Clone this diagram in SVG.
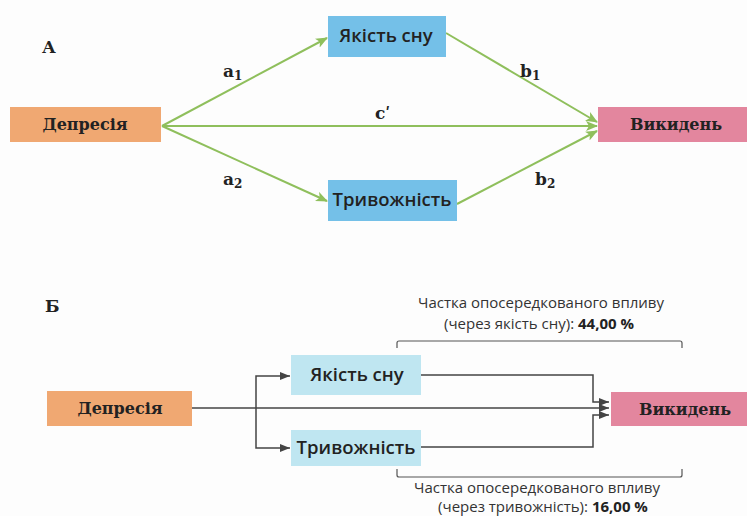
<svg xmlns="http://www.w3.org/2000/svg" width="747" height="516" viewBox="0 0 747 516">
<defs>
<style>
.ser{font-family:"DejaVu Serif","Liberation Serif",serif;font-weight:bold;fill:#222}
.san{font-family:"Open Sans","Noto Sans",sans-serif;font-weight:600;fill:#222}
.reg{font-family:"Open Sans","Noto Sans",sans-serif;font-weight:400;fill:#333;font-size:15px}
.g{stroke:#8fbf5c;stroke-width:2;fill:none}
.k{stroke:#444;stroke-width:1.5;fill:none}
.br{stroke:#555;stroke-width:1.2;fill:none}
</style>
<marker id="ag" markerWidth="12" markerHeight="10" refX="11" refY="5" orient="auto" markerUnits="userSpaceOnUse">
<path d="M0,0 L12,5 L0,10 L3,5 Z" fill="#8fbf5c"/>
</marker>
<marker id="ak" markerWidth="10" markerHeight="8" refX="10" refY="4" orient="auto" markerUnits="userSpaceOnUse">
<path d="M0,0 L10,4 L0,8 Z" fill="#444"/>
</marker>
</defs>
<rect width="747" height="516" fill="#fdfdfd"/>

<text class="ser" x="42" y="53" font-size="17">А</text>
<text class="ser" x="45" y="312" font-size="17">Б</text>

<g id="connectors-a">
<line class="g" x1="162" y1="126" x2="327" y2="38" marker-end="url(#ag)"/>
<line class="g" x1="162" y1="126" x2="327" y2="201" marker-end="url(#ag)"/>
<line class="g" x1="162" y1="126" x2="597" y2="126" marker-end="url(#ag)"/>
<line class="g" x1="446" y1="33" x2="597" y2="122" marker-end="url(#ag)"/>
<line class="g" x1="457" y1="204" x2="597" y2="131" marker-end="url(#ag)"/>
</g>
<g id="labels-a" class="ser" font-size="17">
<text x="223" y="77">a<tspan font-size="12" dy="3">1</tspan></text>
<text x="223" y="185">a<tspan font-size="12" dy="3">2</tspan></text>
<text x="520" y="77">b<tspan font-size="12" dy="3">1</tspan></text>
<text x="535" y="185">b<tspan font-size="12" dy="3">2</tspan></text>
<text x="375" y="119">cʹ</text>
</g>

<g id="a-depresiia">
<rect x="10" y="107" width="151" height="35" fill="#f0a872"/>
<text class="ser" x="85" y="130" font-size="16" text-anchor="middle">Депресія</text>
</g>
<g id="a-yakist">
<rect x="328" y="16" width="118" height="41" fill="#74c0e8"/>
<text class="san" x="386" y="42" font-size="18.5" text-anchor="middle">Якість сну</text>
</g>
<g id="a-tryvozhnist">
<rect x="328" y="180" width="129" height="41" fill="#74c0e8"/>
<text class="san" x="392" y="206" font-size="18.5" text-anchor="middle">Тривожність</text>
</g>
<g id="a-vykyden">
<rect x="598" y="107" width="149" height="35" fill="#e3869e"/>
<text class="ser" x="676" y="130" font-size="16" text-anchor="middle">Викидень</text>
</g>

<g id="connectors-b">
<line class="k" x1="192" y1="408" x2="609" y2="408" marker-end="url(#ak)"/>
<polyline class="k" points="256,408 256,376 290,376" marker-end="url(#ak)"/>
<polyline class="k" points="256,408 256,448 290,448" marker-end="url(#ak)"/>
<polyline class="k" points="421,375 593,375 593,402 609,402" marker-end="url(#ak)"/>
<polyline class="k" points="421,447 593,447 593,415 609,415" marker-end="url(#ak)"/>
</g>

<g id="b-depresiia">
<rect x="47" y="391" width="145" height="35" fill="#f0a872"/>
<text class="ser" x="120" y="414" font-size="16" text-anchor="middle">Депресія</text>
</g>
<g id="b-yakist">
<rect x="291" y="355" width="130" height="40" fill="#bfe6f1"/>
<text class="san" x="357" y="381" font-size="18.5" text-anchor="middle">Якість сну</text>
</g>
<g id="b-tryvozhnist">
<rect x="291" y="430" width="130" height="36" fill="#bfe6f1"/>
<text class="san" x="356" y="454" font-size="18.5" text-anchor="middle">Тривожність</text>
</g>
<g id="b-vykyden">
<rect x="611" y="392" width="136" height="34" fill="#e3869e"/>
<text class="ser" x="685" y="415" font-size="16" text-anchor="middle">Викидень</text>
</g>

<g id="bracket-top">
<path class="br" d="M397,348 L397,343 Q397,341 399,341 L680,341 Q682,341 682,343 L682,348"/>
<text class="reg" x="541" y="308" text-anchor="middle">Частка опосередкованого впливу</text>
<text class="reg" x="539" y="329" text-anchor="middle">(через якість сну): <tspan font-weight="bold" fill="#222">44,00 %</tspan></text>
</g>
<g id="bracket-bottom">
<path class="br" d="M397,469 L397,475 Q397,477 399,477 L680,477 Q682,477 682,475 L682,469"/>
<text class="reg" x="537" y="493" text-anchor="middle">Частка опосередкованого впливу</text>
<text class="reg" x="543" y="512" text-anchor="middle">(через тривожність): <tspan font-weight="bold" fill="#222">16,00 %</tspan></text>
</g>
</svg>
